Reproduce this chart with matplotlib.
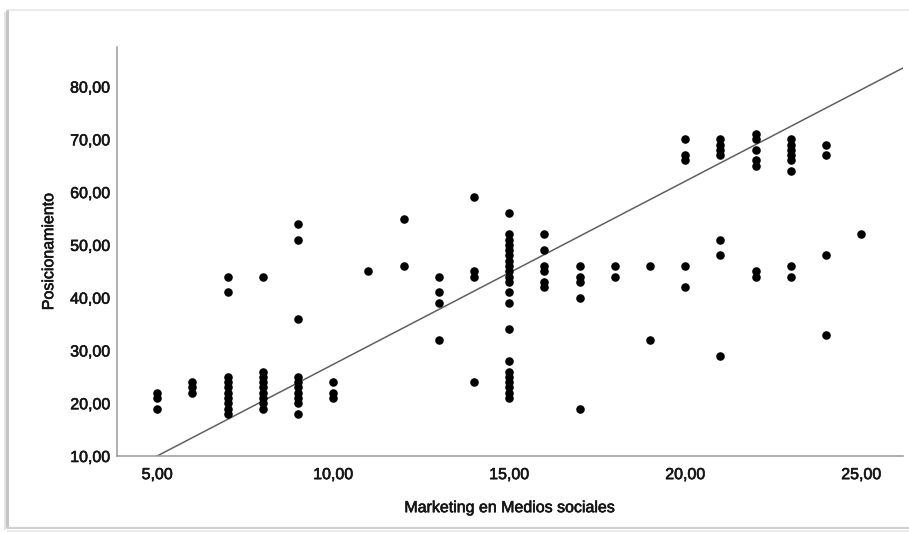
import matplotlib
matplotlib.use("Agg")
import matplotlib.pyplot as plt
import matplotlib.patheffects as pe
from matplotlib.ticker import FuncFormatter, FixedLocator
from matplotlib.lines import Line2D
import numpy as np

plt.rcParams['font.family'] = ['Liberation Sans', 'DejaVu Sans']

# Observations: social-media marketing score vs. positioning score
marketing = (
    [5] * 3 + [6] * 3 + [7] * 10 + [8] * 9 + [9] * 10 + [10] * 3 + [11] * 1 +
    [12] * 2 + [13] * 4 + [14] * 4 + [15] * 21 + [16] * 6 + [17] * 5 +
    [18] * 2 + [19] * 2 + [20] * 5 + [21] * 7 + [22] * 7 + [23] * 8 +
    [24] * 4 + [25] * 1
)
posicionamiento = (
    [22, 21, 19] +
    [24, 23, 22] +
    [44, 41, 25, 24, 23, 22, 21, 20, 19, 18] +
    [44, 26, 25, 24, 23, 22, 21, 20, 19] +
    [54, 51, 36, 25, 24, 23, 22, 21, 20, 18] +
    [24, 22, 21] +
    [45] +
    [55, 46] +
    [44, 41, 39, 32] +
    [59, 45, 44, 24] +
    [56, 52, 51, 50, 49, 48, 47, 46, 45, 44, 43, 41, 39, 34, 28,
     26, 25, 24, 23, 22, 21] +
    [52, 49, 46, 45, 43, 42] +
    [46, 44, 43, 40, 19] +
    [46, 44] +
    [46, 32] +
    [70, 67, 66, 46, 42] +
    [70, 69, 68, 67, 51, 48, 29] +
    [71, 70, 68, 66, 65, 45, 44] +
    [70, 69, 68, 67, 66, 64, 46, 44] +
    [69, 67, 48, 33] +
    [52]
)

# Linear fit line (total population)
fit_slope = 3.47
fit_intercept = -7.35

x_ticks = [5, 10, 15, 20, 25]
y_ticks = [10, 20, 30, 40, 50, 60, 70, 80]
x_range = (3.86, 26.19)
y_range = (10, 87.5)

W, H = 909, 533
fig = plt.figure(figsize=(W / 100, H / 100), dpi=100)
fig.patch.set_facecolor('white')

# card outline with a soft shadow on the left and bottom
def fline(xs, ys, color, lw):
    fig.add_artist(Line2D([x / W for x in xs], [1 - y / H for y in ys],
                          transform=fig.transFigure, color=color, lw=lw,
                          solid_capstyle='butt'))

fline([7, W], [10, 10], '#e6e6e6', 1.2)
fline([7, 7], [10, 528], '#c4c4c4', 2.2)
fline([4.5, 4.5], [12, 530], '#e4e4e4', 1.5)
fline([7, W], [528, 528], '#d2d2d2', 1.6)
fline([7, W], [530.5, 530.5], '#ececec', 1.4)

ax = fig.add_axes([117 / W, 1 - 456 / H, (903 - 117) / W, (456 - 47) / H])
ax.set_xlim(*x_range)
ax.set_ylim(*y_range)

xs = np.array(x_range)
ax.plot(xs, fit_slope * xs + fit_intercept, color='#606060', lw=1.1,
        zorder=2, clip_on=True)
ax.scatter(marketing, posicionamiento, s=38, color='black', linewidths=0,
           zorder=3)

for side in ('top', 'right'):
    ax.spines[side].set_visible(False)
for side in ('left', 'bottom'):
    ax.spines[side].set_color('#9a9a9a')
    ax.spines[side].set_linewidth(1.1)

text_color = '#151515'
thicken = [pe.withStroke(linewidth=0.45, foreground=text_color)]

fmt = FuncFormatter(lambda v, p: f"{v:.2f}".replace('.', ','))
ax.xaxis.set_major_locator(FixedLocator(x_ticks))
ax.yaxis.set_major_locator(FixedLocator(y_ticks))
ax.xaxis.set_major_formatter(fmt)
ax.yaxis.set_major_formatter(fmt)
ax.tick_params(axis='both', length=0, labelsize=11.5, colors=text_color)
ax.tick_params(axis='x', pad=8)
ax.tick_params(axis='y', pad=5)
for lab in ax.get_xticklabels() + ax.get_yticklabels():
    lab.set_path_effects(thicken)

xl = ax.set_xlabel('Marketing en Medios sociales', fontsize=11.5,
                   color=text_color, labelpad=13)
yl = ax.set_ylabel('Posicionamiento', fontsize=11.5, color=text_color,
                   labelpad=10)
xl.set_path_effects(thicken)
yl.set_path_effects(thicken)

fig.savefig('out.png', dpi=100)
